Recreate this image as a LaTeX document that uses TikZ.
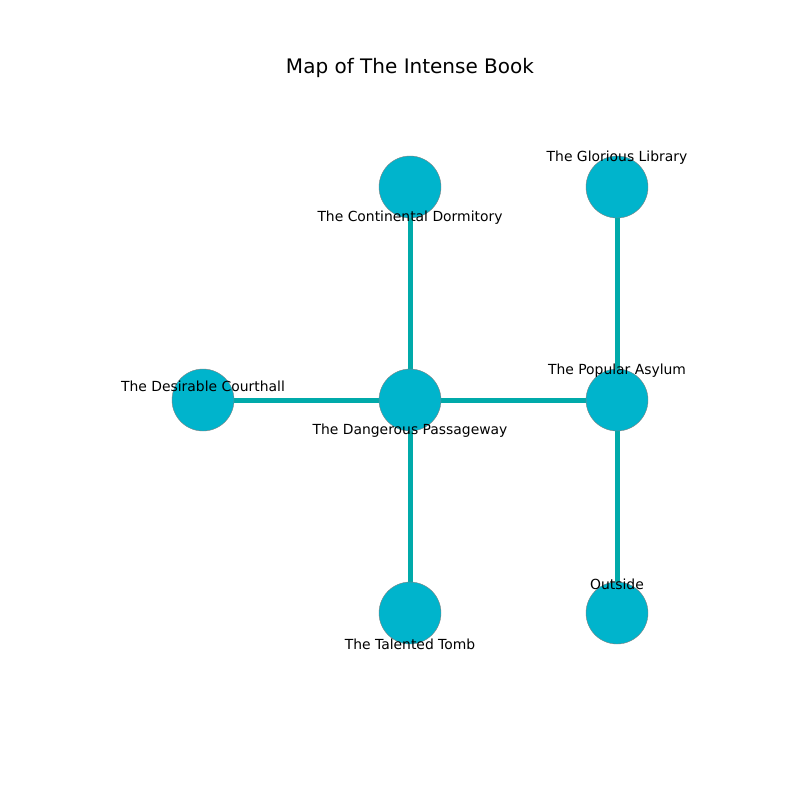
\documentclass[tikz,border=0pt]{standalone}
\usepackage{fontspec}
\setmainfont{DejaVu Sans}
\usetikzlibrary{positioning, backgrounds}
\definecolor{roomfill}{HTML}{00B4CC}
\definecolor{pathteal}{HTML}{00AAAA}
\tikzset{
  room/.style={circle, fill=roomfill, draw=gray, line width=0.4pt, minimum size=62pt, inner sep=0pt},
  roomname/.style={font=\fontsize{13.9}{16}\selectfont, inner sep=0pt},
  passage/.style={pathteal, line width=5pt}
}
\begin{document}
\begin{tikzpicture}[x=1pt, y=-1pt]
    \useasboundingbox (0,0) rectangle (800,800);

    % Title
    \node[font=\fontsize{20}{24}\selectfont] (title) at (410, 68) {Map of The Intense Book};

    % Rooms
    \node[room] (dorm) at (410, 187) {};
    \node[room] (library) at (617, 187) {};
    \node[room] (court) at (203, 400) {};
    \node[room] (passage) at (410, 400) {};
    \node[room] (asylum) at (617, 400) {};
    \node[room] (tomb) at (410, 613) {};
    \node[room] (outside) at (617, 613) {};

    % Passages between rooms
    \begin{pgfonlayer}{background}
        \draw[passage] (dorm) -- (passage);
        \draw[passage] (court) -- (passage);
        \draw[passage] (passage) -- (asylum);
        \draw[passage] (passage) -- (tomb);
        \draw[passage] (library) -- (asylum);
        \draw[passage] (asylum) -- (outside);
    \end{pgfonlayer}

    % Room names
    \node[roomname] (dormname) at (410, 218) {The Continental Dormitory};
    \node[roomname] (libraryname) at (617, 158) {The Glorious Library};
    \node[roomname] (courtname) at (203, 386) {The Desirable Courthall};
    \node[roomname] (passagename) at (410, 431) {The Dangerous Passageway};
    \node[roomname] (asylumname) at (617, 371) {The Popular Asylum};
    \node[roomname] (tombname) at (410, 644) {The Talented Tomb};
    \node[roomname] (outsidename) at (617, 584) {Outside};
\end{tikzpicture}
\end{document}
